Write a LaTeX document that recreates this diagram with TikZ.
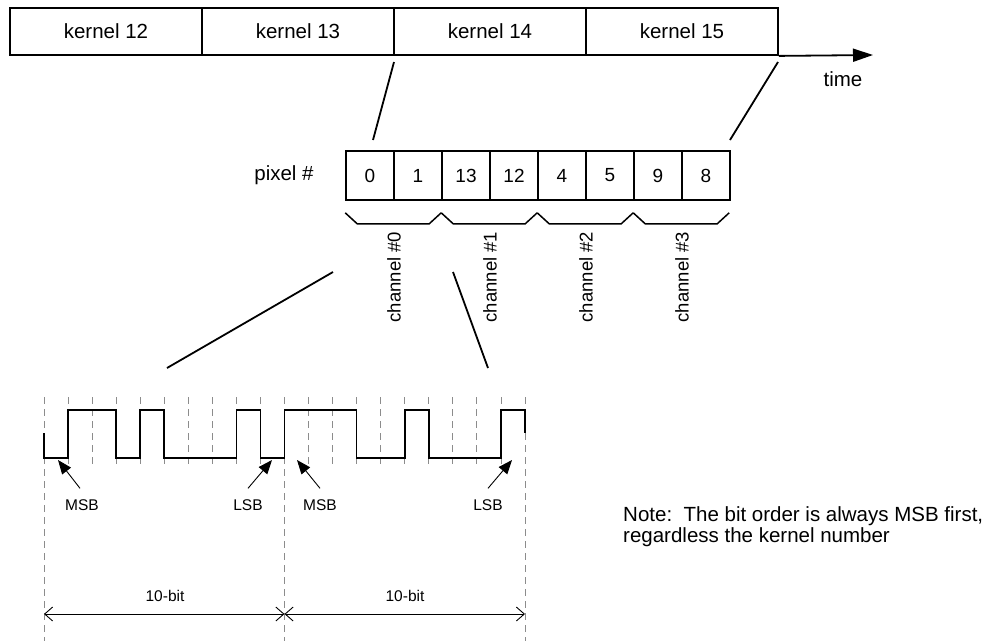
\documentclass[tikz,border=0pt]{standalone}
\usepackage{fontspec}
\setmainfont{Liberation Sans}
\usetikzlibrary{arrows.meta}

\begin{document}
\begin{tikzpicture}[
    x=1pt, y=-1pt,
    kernel/.style={draw, line width=1.8pt, minimum width=192pt, minimum height=47pt, inner sep=0pt, font=\fontsize{20.5}{24}\selectfont},
    pixel/.style={draw, line width=1.6pt, minimum width=48pt, minimum height=49pt, inner sep=0pt, font=\fontsize{19}{22}\selectfont},
    txt/.style={inner sep=0pt, font=\fontsize{20.5}{24}\selectfont},
    chan/.style={rotate=90, inner sep=0pt, font=\fontsize{18.5}{22}\selectfont},
    small/.style={inner sep=2pt, font=\fontsize{15.5}{18}\selectfont},
    zoomline/.style={line width=1.8pt},
    chbrace/.style={line width=1.5pt},
    timeline/.style={line width=1.8pt, -{Triangle[length=20pt, width=13pt]}},
    wave/.style={line width=1.8pt},
    bitgrid/.style={line width=0.9pt, black!45, dash pattern=on 7pt off 5pt},
    ptr/.style={line width=0.9pt, -{Triangle[length=14pt, width=11pt]}},
    dimline/.style={line width=0.9pt, {Straight Barb[length=8pt, width=14pt]}-{Straight Barb[length=8pt, width=14pt]}}
]
    \useasboundingbox (0,0) rectangle (998,641);

    % Kernels on the time axis
    \node[kernel] (k12) at (106,31.5) {kernel 12};
    \node[kernel] (k13) at (298,31.5) {kernel 13};
    \node[kernel] (k14) at (490,31.5) {kernel 14};
    \node[kernel] (k15) at (682,31.5) {kernel 15};
    \coordinate (tend) at (873,55);
    \draw[timeline] (k15.south east) -- (tend);
    \node[txt] (time) at (843,79) {time};

    % Pixels inside one kernel
    \node[txt] (pixlabel) at (284,175.5) {pixel \#};
    \node[pixel] (px0) at (370,175.5) {0};
    \node[pixel] (px1) at (418,175.5) {1};
    \node[pixel] (px2) at (466,175.5) {13};
    \node[pixel] (px3) at (514,175.5) {12};
    \node[pixel] (px4) at (562,175.5) {4};
    \node[pixel] (px5) at (610,175.5) {5};
    \node[pixel] (px6) at (658,175.5) {9};
    \node[pixel] (px7) at (706,175.5) {8};

    % Channel brackets
    \draw[chbrace] ([yshift=-12pt]px0.south west) -- ++(12,11) -- ++(72,0) -- ++(12,-11);
    \draw[chbrace] ([yshift=-12pt]px2.south west) -- ++(12,11) -- ++(72,0) -- ++(12,-11);
    \draw[chbrace] ([yshift=-12pt]px4.south west) -- ++(12,11) -- ++(72,0) -- ++(12,-11);
    \draw[chbrace] ([yshift=-12pt]px6.south west) -- ++(12,11) -- ++(72,0) -- ++(12,-11);
    \node[chan] (ch0) at (394,277) {channel \#0};
    \node[chan] (ch1) at (490,277) {channel \#1};
    \node[chan] (ch2) at (586,277) {channel \#2};
    \node[chan] (ch3) at (682,277) {channel \#3};

    % Zoom lines
    \coordinate (za) at (394,62);
    \coordinate (zb) at (373,140);
    \coordinate (zc) at (778,62);
    \coordinate (zd) at (730,140);
    \coordinate (wa) at (333,272);
    \coordinate (wb) at (167,368);
    \coordinate (wc) at (453,272);
    \coordinate (wd) at (488,368);
    \draw[zoomline] (za) -- (zb);
    \draw[zoomline] (zc) -- (zd);
    \draw[zoomline] (wa) -- (wb);
    \draw[zoomline] (wc) -- (wd);

    % Bit grid
    \foreach \i in {1,2,3,4,5,6,7,8,9,11,12,13,14,15,16,17,18,19}
        \draw[bitgrid] ({44+24.05*\i},397) -- ({44+24.05*\i},468);
    \foreach \i in {0,10,20}
        \draw[bitgrid] ({44+24.05*\i},397) -- ({44+24.05*\i},641);

    % Serial waveform of channel 0
    \draw[wave] (44,433) -- (44,458) -- (68,458) -- (68,410) -- (116,410) -- (116,458)
        -- (140,458) -- (140,410) -- (164,410) -- (164,458) -- (236.5,458) -- (236.5,410)
        -- (260.5,410) -- (260.5,458) -- (284.5,458) -- (284.5,410) -- (356.5,410)
        -- (356.5,458) -- (405,458) -- (405,410) -- (429,410) -- (429,458) -- (501,458)
        -- (501,410) -- (525,410) -- (525,433);

    % MSB / LSB markers
    \node[small] (msb1) at (82,505) {MSB};
    \node[small] (lsb1) at (248,505) {LSB};
    \node[small] (msb2) at (320,505) {MSB};
    \node[small] (lsb2) at (488,505) {LSB};
    \coordinate (tmsb1) at (58,460);
    \coordinate (tlsb1) at (272,460);
    \coordinate (tmsb2) at (297,460);
    \coordinate (tlsb2) at (512,460);
    \draw[ptr] ([xshift=-2pt, yshift=9pt]msb1.north) -- (tmsb1);
    \draw[ptr] ([yshift=9pt]lsb1.north) -- (tlsb1);
    \draw[ptr] ([yshift=9pt]msb2.north) -- (tmsb2);
    \draw[ptr] ([yshift=9pt]lsb2.north) -- (tlsb2);

    % Word lengths
    \coordinate (d0) at (44,614);
    \coordinate (d1) at (284.5,614);
    \coordinate (d2) at (525,614);
    \draw[dimline] (d0) -- (d1);
    \draw[dimline] (d1) -- (d2);
    \node[small] (len1) at (165,596) {10-bit};
    \node[small] (len2) at (405,596) {10-bit};

    % Note
    \node[txt, anchor=base west] (note1) at (623,521) {Note:\ \ The bit order is always MSB first,};
    \node[txt, anchor=base west] (note2) at (623,542) {regardless the kernel number};
\end{tikzpicture}
\end{document}
